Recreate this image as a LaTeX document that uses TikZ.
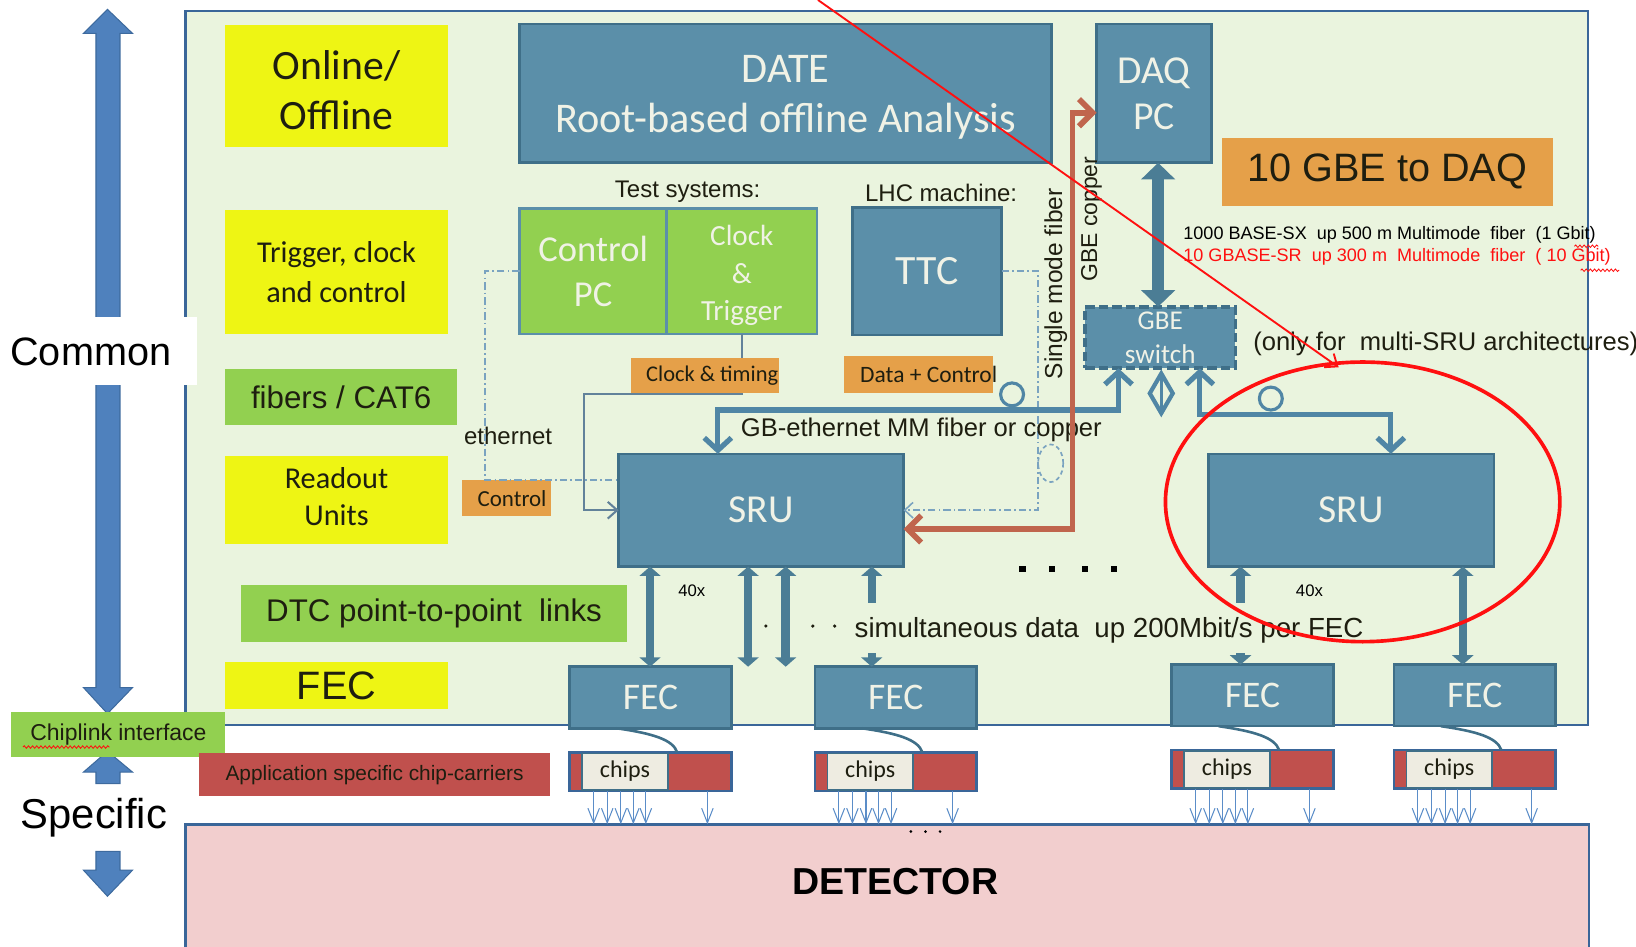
\documentclass[tikz,border=0pt]{standalone}
\usepackage{fontspec}
\setmainfont{Liberation Sans}
\newfontfamily\calf{Carlito}
\usetikzlibrary{arrows.meta,decorations.pathmorphing}
\definecolor{panelfill}{HTML}{EAF4DE}
\definecolor{panelline}{HTML}{3A6699}
\definecolor{steel}{HTML}{5B8FA9}
\definecolor{steeldk}{HTML}{3F6F88}
\definecolor{boxtxt}{HTML}{F0F2E6}
\definecolor{yel}{HTML}{EEF514}
\definecolor{grn}{HTML}{92D050}
\definecolor{org}{HTML}{E5A049}
\definecolor{carrier}{HTML}{C0504D}
\definecolor{pinkdet}{HTML}{F2CECE}
\definecolor{bigarrow}{HTML}{4F81BD}
\definecolor{bigarrowdk}{HTML}{3D6A9E}
\definecolor{rust}{HTML}{C0654D}
\definecolor{link}{HTML}{4B7D95}
\definecolor{gbcol}{HTML}{5086A5}
\definecolor{thinl}{HTML}{7AA3C0}
\definecolor{chipcream}{HTML}{EEECE1}
\definecolor{txtdark}{HTML}{1E1E10}
\definecolor{chipar}{HTML}{5B8DC8}
\definecolor{redl}{HTML}{FF1010}
\newcommand\fsz[2]{\fontsize{#1}{#2}\selectfont}
\tikzset{
 rect/.style={anchor=north west, inner sep=0pt, outer sep=0pt, align=center},
 steelbox/.style={rect, fill=steel, draw=steeldk, line width=2.5pt, text=boxtxt},
 yelbox/.style={rect, fill=yel, text=txtdark},
 grnlabel/.style={rect, fill=grn, text=txtdark},
 orgbox/.style={rect, fill=org, text=txtdark},
 grnbox/.style={rect, fill=grn, draw=steel, line width=2.5pt, text=boxtxt},
 plain/.style={inner sep=0pt, text=txtdark},
 boxlabel/.style={inner sep=0pt, align=center},
 fatboth/.style={draw=link, line width=8pt, {Triangle[length=9pt,width=20pt]}-{Triangle[length=9pt,width=20pt]}},
 fatup/.style={draw=link, line width=8pt, {Triangle[length=9pt,width=20pt]}-},
 fatdown/.style={draw=link, line width=8pt, -{Triangle[length=9pt,width=20pt]}},
 gbl/.style={draw=gbcol, line width=5pt, {Straight Barb[length=12pt,width=26pt]}-{Straight Barb[length=12pt,width=26pt]}},
 rustl/.style={draw=rust, line width=5.5pt, {Straight Barb[length=13pt,width=26pt]}-{Straight Barb[length=13pt,width=26pt]}},
 ddline/.style={draw=thinl, line width=1.6pt, dash pattern=on 7pt off 3pt on 1.5pt off 3pt},
 clkline/.style={draw=thinl!80!black, line width=2pt},
 chiparrow/.style={draw=chipar, line width=1pt, -{Straight Barb[length=14pt,width=11pt]}},
 wavy/.style={draw=redl, line width=0.8pt, decorate, decoration={snake, amplitude=1.2pt, segment length=4pt}}
}
\begin{document}
\begin{tikzpicture}[x=1pt,y=-1pt]
\useasboundingbox (0,0) rectangle (1568,907);
% main panel and detector
\node[rect, fill=panelfill, draw=panelline, line width=2.5pt, minimum width=1344pt, minimum height=684.5pt] (panel) at (178,10.5) {};
\node[rect, fill=pinkdet, draw=panelline, line width=2.5pt, minimum width=1345pt, minimum height=130pt] (det) at (178,790) {};
\node[plain, text=black, font=\bfseries\fsz{36}{40}] (dettxt) at (858,845) {DETECTOR};
% left arrows
\fill[bigarrow, draw=bigarrowdk, line width=1pt] (103,9) -- (127,32) -- (115,32) -- (115,659) -- (127,659) -- (103,684) -- (80,659) -- (92,659) -- (92,32) -- (80,32) -- cycle;
\fill[bigarrow, draw=bigarrowdk, line width=1pt] (103,720) -- (127,740) -- (115,740) -- (115,751) -- (92,751) -- (92,740) -- (80,740) -- cycle;
\fill[bigarrow, draw=bigarrowdk, line width=1pt] (92,816) -- (115,816) -- (115,834) -- (127,834) -- (103,859) -- (80,834) -- (92,834) -- cycle;
\node[rect, fill=white, minimum width=189pt, minimum height=65pt] (commonbox) at (0,304) {};
\node[plain, text=black, font=\fsz{38}{44}] (common) at (87,337) {Common};
\node[plain, text=black, font=\fsz{40}{46}] (specific) at (90,784) {Specific};
\node[grnlabel, minimum width=205pt, minimum height=44pt, font=\fsz{22}{26}] (chiplink) at (11,682) {Chiplink interface};
\draw[wavy] (22,716) -- (105,716);
% legend labels
\node[yelbox, minimum width=213pt, minimum height=117pt] (online) at (216,24) {};
\node[boxlabel, text=txtdark, font=\calf\fsz{40}{48}] (onlinetxt) at ([yshift=-4pt]online.center) {Online/\\Offline};
\node[yelbox, minimum width=213pt, minimum height=119pt, font=\calf\fsz{29}{38}] (trig) at (216,201) {Trigger, clock\\and control};
\node[grnlabel, minimum width=222pt, minimum height=53pt, font=\fsz{30}{34}] (fibers) at (216,354) {fibers / CAT6};
\node[yelbox, minimum width=213pt, minimum height=84pt] (readout) at (216,437) {};
\node[boxlabel, text=txtdark, font=\calf\fsz{29}{36}] (readouttxt) at ([yshift=3pt]readout.center) {Readout\\Units};
\node[grnlabel, minimum width=370pt, minimum height=54pt, font=\fsz{30}{34}] (dtc) at (231,561) {DTC point-to-point~~links};
\node[yelbox, minimum width=213pt, minimum height=46pt, font=\fsz{38}{42}] (fecy) at (216,634) {FEC};
\node[rect, fill=carrier, text=txtdark, minimum width=336pt, minimum height=41pt, font=\fsz{20}{24}] (appl) at (191,722) {Application specific chip-carriers};
% top row
\node[steelbox, minimum width=510pt, minimum height=133pt] (date) at (498,23) {};
\node[boxlabel, text=boxtxt, font=\calf\fsz{40.5}{48}] (datetxt) at ([yshift=-4pt]date.center) {DATE\\Root-based offline~Analysis};
\node[steelbox, minimum width=110pt, minimum height=133pt, font=\calf\fsz{38}{44}] (daq) at (1051,23) {DAQ\\PC};
\node[orgbox, minimum width=317pt, minimum height=65pt, font=\fsz{38}{42}] (gbe10) at (1171,132) {10 GBE to DAQ};
\node[plain, text=black, font=\fsz{17.3}{20}, anchor=west] (base1) at (1134,225) {1000 BASE-SX~~up 500 m Multimode~~fiber~~(1 Gbit)};
\node[plain, text=redl, font=\fsz{17.3}{20}, anchor=west] (base2) at (1134,246) {10 GBASE-SR~~up 300 m~~Multimode~~fiber~~( 10 Gbit)};
\draw[wavy] (1509,236) -- (1532,236);
\draw[wavy] (1515,259) -- (1552,259);
% test systems
\node[plain, font=\fsz{23}{26}] (testsys) at (659,184) {Test systems:};
\node[plain, font=\fsz{23}{26}] (lhc) at (902,185) {LHC machine:};
\node[grnbox, minimum width=141pt, minimum height=120pt, font=\calf\fsz{35}{43}] (ctrlpc) at (498,200) {Control\\PC};
\node[grnbox, minimum width=144pt, minimum height=120pt] (clktrg) at (639,200) {};
\node[boxlabel, text=boxtxt, font=\calf\fsz{28}{36}] (clktrgtxt) at ([yshift=-4pt]clktrg.center) {Clock\\\&\\Trigger};
\node[steelbox, minimum width=143pt, minimum height=122pt, font=\calf\fsz{40}{44}] (ttc) at (817,199) {TTC};
% SRUs
\node[steelbox, minimum width=273pt, minimum height=108pt, font=\calf\fsz{38}{42}] (sru1) at (593,435) {SRU};
\node[steelbox, minimum width=274pt, minimum height=108pt, font=\calf\fsz{38}{42}] (sru2) at (1158,435) {SRU};
% thin connectors
\draw[clkline, -{Straight Barb[length=9pt,width=16pt]}] (clktrg.south) -- ++(0,58) -- ++(-151,0) |- (sru1.west);
\node[orgbox, minimum width=142pt, minimum height=34pt] (clktim) at (605,343) {};
\node[plain, font=\calf\fsz{21.5}{24}, anchor=east] (clktimtxt) at ([xshift=-1pt]clktim.east) {Clock \& timing};
\node[orgbox, minimum width=143pt, minimum height=36pt] (datactl) at (809,341) {};
\node[plain, font=\calf\fsz{22.5}{24}, anchor=east] (datactltxt) at ([xshift=4pt]datactl.east) {Data + Control};
\node[orgbox, minimum width=85pt, minimum height=35pt] (ctrlorg) at (443,460) {};
\node[plain, font=\calf\fsz{22}{24}, anchor=east] (ctrlorgtxt) at ([xshift=-4pt]ctrlorg.east) {Control};
\node[plain, font=\fsz{23}{26}] (eth) at (487,418) {ethernet};
\draw[ddline] (ctrlpc.west) -- ++(-33,0) |- ([yshift=-25pt]sru1.north west);
\draw[ddline, -{Straight Barb[length=8pt,width=15pt,line width=1.5pt]}] (ttc.east) -- ++(35,0) |- (sru1.east);
\draw[ddline, dash pattern=on 4pt off 3pt] (1007,444) ellipse[x radius=12pt, y radius=18pt];
% GBE switch
\node[steelbox, dash pattern=on 9pt off 4pt, line width=3.5pt, minimum width=144pt, minimum height=59pt, font=\calf\fsz{26}{33}] (gbesw) at (1040,294) {GBE\\switch};
\draw[draw=link, line width=11pt, {Triangle[length=16pt,width=32pt]}-{Triangle[length=16pt,width=32pt]}] ([xshift=59pt]daq.south west) -- ([xshift=70pt]gbesw.north west);
\draw[gbl] ([xshift=95pt]sru1.north west) -- ++(0,-42) -| ([xshift=32pt]gbesw.south west);
\draw[gbl] ([xshift=110pt]gbesw.south west) -- ++(0,44) -| ([xshift=175pt]sru2.north west);
\draw[draw=gbcol, line width=3pt] (970,378) circle[radius=11pt];
\draw[draw=gbcol, line width=3pt] (1218,382) circle[radius=11pt];
\draw[draw=gbcol, line width=4pt, fill=panelfill, line join=miter] (1113,358) -- (1124,377) -- (1113,396) -- (1102,377) -- cycle;
\draw[draw=gbcol, line width=2.5pt] (1113,362) -- (1113,392);
\node[plain, font=\fsz{24.5}{28}] (gbeth) at (883,412) {GB-ethernet MM fiber or copper};
\node[plain, font=\fsz{24.5}{28}, anchor=west] (onlyfor) at (1201,330) {(only for~~multi-SRU architectures)};
% vertical labels
\node[plain, rotate=90, font=\fsz{23.5}{26}] (smf) at (1012,272) {Single mode fiber};
\node[plain, rotate=90, font=\fsz{22}{26}] (gbecu) at (1046,210) {GBE copper};
% rust fiber
\draw[rustl] ([yshift=-18pt]sru1.east) -- ++(162,0) |- ([yshift=-18.5pt]daq.west);
% FECs and chips
\foreach \i/\x/\yf/\yc in {1/546/639/721, 2/781/639/721, 3/1123/637/719, 4/1336/637/719} {
  \node[steelbox, minimum width=155pt, minimum height=59pt, font=\calf\fsz{36}{40}] (fec\i) at (\x,\yf) {FEC};
  \node[rect, fill=carrier, draw=panelline, line width=2.5pt, minimum width=155pt, minimum height=37pt] (chip\i) at (\x,\yc) {};
  \node[rect, fill=chipcream, draw=steeldk, line width=1.5pt, text=txtdark, minimum width=82pt, minimum height=35pt, font=\calf\fsz{23}{26}] (chipin\i) at ([xshift=12pt,yshift=-1pt]chip\i.north west) {chips};
  \draw[draw=steeldk, line width=2.5pt] ([xshift=45pt]fec\i.south west) .. controls +(35,5) and +(-4,-12) .. ([xshift=103pt]chip\i.north west);
  \foreach \d in {23,36,49,61,73,132} {
    \draw[chiparrow] ([xshift=\d pt]chip\i.south west) -- ([xshift=\d pt]chip\i.south west |- det.north);
  }
}
% SRU to FEC links
\draw[fatboth] ([xshift=30pt]sru1.south west) -- ([xshift=30pt]sru1.south west |- fec1.north);
\draw[fatboth] ([xshift=124pt]sru1.south west) -- ([xshift=124pt]sru1.south west |- fec1.north);
\draw[fatboth] ([xshift=160pt]sru1.south west) -- ([xshift=160pt]sru1.south west |- fec1.north);
\coordinate (d1) at ([xshift=242.5pt,yshift=-35pt]sru1.south west);
\draw[fatup] ([xshift=242.5pt]sru1.south west) -- (d1);
\coordinate (d2) at ([xshift=242.5pt,yshift=-83pt]sru1.south west);
\draw[fatdown] (d2) -- (d2 |- fec2.north);
\coordinate (e1) at ([xshift=31pt,yshift=-35pt]sru2.south west);
\draw[fatup] ([xshift=31pt]sru2.south west) -- (e1);
\coordinate (e2) at ([xshift=31pt,yshift=-83pt]sru2.south west);
\draw[fatdown] (e2) -- (e2 |- fec3.north);
\draw[fatboth] ([xshift=244pt]sru2.south west) -- ([xshift=244pt]sru2.south west |- fec4.north);
\node[plain, text=black, font=\fsz{16}{18}] (x40a) at (663,566) {40x};
\node[plain, text=black, font=\fsz{16}{18}] (x40b) at (1255,566) {40x};
\node[plain, font=\fsz{26.5}{30}, anchor=west] (simul) at (819,604) {simultaneous data~~up 200Mbit/s per FEC};
\foreach \px in {734,779,800} { \fill[txtdark] (\px,600) circle[radius=1.7pt]; }
\foreach \px in {980,1008,1040,1068} { \fill[black] (\px-3,542) rectangle ++(6,6); }
\foreach \px in {873,887,901} { \fill[black] (\px,797) circle[radius=1.4pt]; }
% red annotation
\draw[draw=redl, line width=3.5pt] (1306,481) ellipse[x radius=189pt, y radius=134pt];
\draw[draw=redl, line width=1.8pt, -{Straight Barb[length=10pt,width=16pt]}] (784,0) -- (1283,352);
\end{tikzpicture}
\end{document}
